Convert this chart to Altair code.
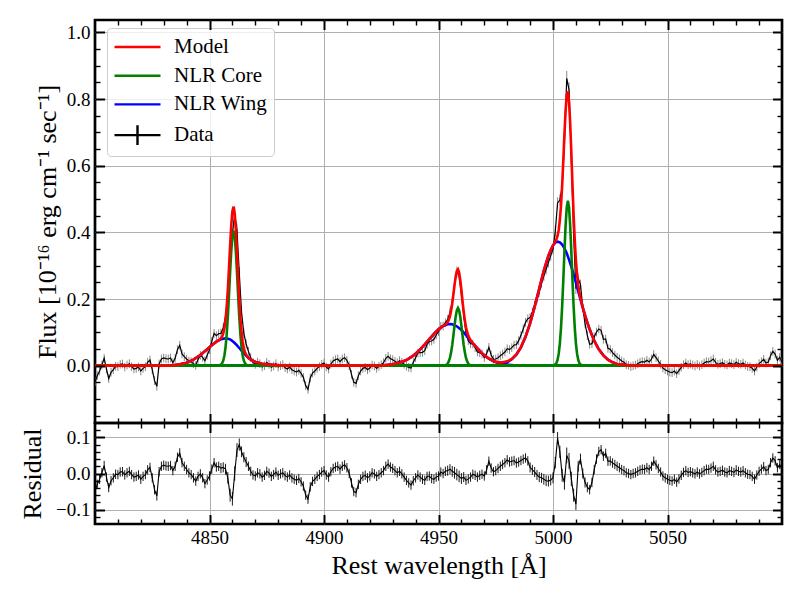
import altair as alt
import pandas as pd

FONT = "Liberation Serif"

# ---------------- spectrum (one sample per Angstrom, 4800..5100) ----------------
wavelength = list(range(4800, 5101))

flux = [
    -0.048, -0.030, -0.016, 0.002, 0.022, -0.010, -0.039, -0.020, -0.012, -0.002,
    -0.003, 0.004, 0.005, -0.004, 0.002, 0.006, -0.003, -0.010, -0.008, -0.004,
    -0.016, -0.008, -0.003, 0.010, 0.017, -0.012, -0.045, -0.062, 0.005, 0.020,
    0.023, 0.021, 0.020, 0.023, 0.009, 0.022, 0.048, 0.061, 0.035, 0.027,
    0.020, 0.014, 0.012, 0.006, 0.001, 0.019, 0.031, 0.025, 0.015, 0.031,
    0.048, 0.073, 0.097, 0.090, 0.096, 0.097, 0.113, 0.149, 0.215, 0.300,
    0.393, 0.457, 0.407, 0.279, 0.160, 0.097, 0.065, 0.043, 0.024, 0.010,
    0.004, 0.011, 0.006, -0.004, 0.000, 0.010, 0.004, -0.005, -0.001, 0.006,
    -0.004, 0.000, 0.003, -0.006, -0.010, -0.004, -0.012, -0.016, -0.019, -0.014,
    -0.023, -0.035, -0.060, -0.071, -0.037, -0.022, -0.016, -0.008, -0.003, 0.004,
    0.008, -0.004, -0.010, 0.005, 0.014, 0.018, 0.020, 0.012, 0.020, 0.024,
    0.016, 0.000, -0.026, -0.050, -0.053, -0.030, -0.016, -0.008, -0.005, -0.012,
    -0.007, 0.002, -0.001, -0.008, -0.002, 0.003, 0.009, 0.022, 0.028, 0.021,
    0.018, 0.013, 0.009, 0.015, 0.010, 0.004, -0.002, -0.005, -0.007, 0.010,
    0.024, 0.038, 0.039, 0.040, 0.045, 0.064, 0.073, 0.074, 0.079, 0.092,
    0.102, 0.118, 0.119, 0.129, 0.138, 0.160, 0.192, 0.244, 0.281, 0.271,
    0.213, 0.152, 0.096, 0.075, 0.066, 0.065, 0.054, 0.041, 0.039, 0.035,
    0.024, 0.036, 0.055, 0.032, 0.019, 0.020, 0.024, 0.030, 0.035, 0.041,
    0.051, 0.048, 0.054, 0.062, 0.063, 0.075, 0.091, 0.110, 0.130, 0.141,
    0.144, 0.161, 0.181, 0.200, 0.221, 0.246, 0.269, 0.289, 0.309, 0.330,
    0.349, 0.403, 0.488, 0.497, 0.536, 0.670, 0.862, 0.828, 0.625, 0.392,
    0.231, 0.262, 0.243, 0.174, 0.126, 0.091, 0.064, 0.066, 0.086, 0.101,
    0.110, 0.106, 0.079, 0.080, 0.052, 0.049, 0.039, 0.032, 0.025, 0.020,
    0.014, 0.010, 0.003, 0.001, -0.003, 0.000, 0.002, 0.006, 0.010, 0.012,
    0.011, 0.016, 0.011, 0.020, 0.034, 0.024, 0.014, 0.004, -0.007, -0.012,
    -0.016, -0.019, -0.021, -0.016, -0.024, -0.015, -0.005, 0.003, 0.008, 0.003,
    0.005, 0.002, -0.001, 0.004, -0.001, 0.003, 0.008, 0.012, 0.011, 0.015,
    0.020, 0.010, 0.004, 0.006, 0.009, 0.004, 0.002, 0.008, 0.006, 0.003,
    0.010, 0.006, 0.004, 0.008, 0.002, -0.002, -0.003, -0.008, -0.016, -0.004,
    0.006, 0.012, 0.019, 0.008, 0.011, 0.030, 0.043, 0.035, 0.016, 0.025,
    0.011,
]

residual = [
    -0.048, -0.030, -0.016, 0.002, 0.022, -0.010, -0.039, -0.020, -0.012, -0.002,
    -0.003, 0.004, 0.005, -0.004, 0.002, 0.006, -0.003, -0.010, -0.008, -0.004,
    -0.016, -0.008, -0.003, 0.010, 0.017, -0.012, -0.045, -0.062, 0.005, 0.020,
    0.023, 0.021, 0.020, 0.022, 0.008, 0.020, 0.045, 0.057, 0.030, 0.020,
    0.011, 0.002, -0.003, -0.012, -0.021, -0.008, -0.001, -0.012, -0.028, -0.018,
    -0.007, 0.012, 0.030, 0.018, 0.020, 0.015, 0.017, 0.012, -0.012, -0.060,
    -0.070, 0.000, 0.065, 0.080, 0.060, 0.045, 0.032, 0.020, 0.006, -0.004,
    -0.007, 0.002, -0.001, -0.010, -0.005, 0.006, 0.001, -0.008, -0.003, 0.004,
    -0.005, -0.001, 0.002, -0.006, -0.010, -0.004, -0.012, -0.016, -0.019, -0.014,
    -0.023, -0.035, -0.060, -0.071, -0.037, -0.022, -0.016, -0.008, -0.003, 0.004,
    0.008, -0.004, -0.010, 0.005, 0.014, 0.018, 0.020, 0.012, 0.020, 0.024,
    0.016, 0.000, -0.026, -0.050, -0.053, -0.030, -0.016, -0.008, -0.005, -0.012,
    -0.007, 0.002, -0.001, -0.008, -0.003, 0.002, 0.008, 0.020, 0.026, 0.018,
    0.014, 0.008, 0.002, 0.006, -0.001, -0.010, -0.019, -0.026, -0.032, -0.020,
    -0.012, -0.004, -0.010, -0.016, -0.019, -0.008, -0.007, -0.014, -0.016, -0.010,
    -0.007, 0.004, 0.000, 0.006, 0.008, 0.012, 0.006, 0.002, -0.003, -0.008,
    -0.014, -0.010, -0.019, -0.015, -0.010, -0.002, -0.005, -0.010, -0.005, -0.002,
    -0.007, 0.010, 0.034, 0.015, 0.005, 0.008, 0.014, 0.020, 0.025, 0.030,
    0.038, 0.032, 0.034, 0.036, 0.029, 0.032, 0.036, 0.040, 0.043, 0.035,
    0.017, 0.010, 0.004, -0.004, -0.010, -0.012, -0.016, -0.020, -0.021, -0.018,
    -0.012, 0.030, 0.098, 0.060, -0.005, -0.025, 0.050, 0.035, -0.015, -0.060,
    -0.085, 0.020, 0.040, 0.000, -0.025, -0.038, -0.045, -0.025, 0.011, 0.040,
    0.061, 0.066, 0.048, 0.056, 0.034, 0.035, 0.029, 0.025, 0.020, 0.016,
    0.011, 0.008, 0.002, 0.000, -0.003, 0.000, 0.002, 0.006, 0.010, 0.012,
    0.011, 0.016, 0.011, 0.020, 0.034, 0.024, 0.014, 0.004, -0.007, -0.012,
    -0.016, -0.019, -0.021, -0.016, -0.024, -0.015, -0.005, 0.003, 0.008, 0.003,
    0.005, 0.002, -0.001, 0.004, -0.001, 0.003, 0.008, 0.012, 0.011, 0.015,
    0.020, 0.010, 0.004, 0.006, 0.009, 0.004, 0.002, 0.008, 0.006, 0.003,
    0.010, 0.006, 0.004, 0.008, 0.002, -0.002, -0.003, -0.008, -0.016, -0.004,
    0.006, 0.012, 0.019, 0.008, 0.011, 0.030, 0.043, 0.035, 0.016, 0.025,
    0.011,
]

flux_err = [
    0.013, 0.013, 0.013, 0.013, 0.013, 0.013, 0.013, 0.013, 0.013, 0.013,
    0.013, 0.013, 0.013, 0.013, 0.013, 0.013, 0.013, 0.013, 0.013, 0.013,
    0.013, 0.013, 0.013, 0.013, 0.013, 0.013, 0.013, 0.013, 0.013, 0.013,
    0.013, 0.013, 0.013, 0.013, 0.013, 0.013, 0.013, 0.013, 0.013, 0.013,
    0.013, 0.013, 0.013, 0.013, 0.013, 0.013, 0.013, 0.013, 0.013, 0.013,
    0.013, 0.013, 0.013, 0.013, 0.013, 0.014, 0.014, 0.015, 0.016, 0.018,
    0.019, 0.020, 0.019, 0.017, 0.015, 0.014, 0.014, 0.013, 0.013, 0.013,
    0.013, 0.013, 0.013, 0.013, 0.013, 0.013, 0.013, 0.013, 0.013, 0.013,
    0.013, 0.013, 0.013, 0.013, 0.013, 0.013, 0.013, 0.013, 0.013, 0.013,
    0.013, 0.013, 0.013, 0.013, 0.013, 0.013, 0.013, 0.013, 0.013, 0.013,
    0.013, 0.013, 0.013, 0.013, 0.013, 0.013, 0.013, 0.013, 0.013, 0.013,
    0.013, 0.013, 0.013, 0.013, 0.013, 0.013, 0.013, 0.013, 0.013, 0.013,
    0.013, 0.013, 0.013, 0.013, 0.013, 0.013, 0.013, 0.013, 0.013, 0.013,
    0.013, 0.013, 0.013, 0.013, 0.013, 0.013, 0.013, 0.013, 0.013, 0.013,
    0.013, 0.013, 0.013, 0.013, 0.013, 0.013, 0.013, 0.013, 0.013, 0.013,
    0.013, 0.013, 0.013, 0.013, 0.014, 0.014, 0.015, 0.016, 0.016, 0.016,
    0.015, 0.014, 0.013, 0.013, 0.013, 0.013, 0.013, 0.013, 0.013, 0.013,
    0.013, 0.013, 0.013, 0.013, 0.013, 0.013, 0.013, 0.013, 0.013, 0.013,
    0.013, 0.013, 0.013, 0.013, 0.013, 0.013, 0.013, 0.013, 0.013, 0.013,
    0.014, 0.014, 0.014, 0.014, 0.014, 0.014, 0.015, 0.015, 0.015, 0.015,
    0.015, 0.016, 0.017, 0.017, 0.018, 0.020, 0.022, 0.022, 0.020, 0.018,
    0.016, 0.015, 0.015, 0.014, 0.014, 0.014, 0.013, 0.013, 0.013, 0.013,
    0.013, 0.013, 0.013, 0.013, 0.013, 0.013, 0.013, 0.013, 0.013, 0.013,
    0.013, 0.013, 0.013, 0.013, 0.013, 0.013, 0.013, 0.013, 0.013, 0.013,
    0.013, 0.013, 0.013, 0.013, 0.013, 0.013, 0.013, 0.013, 0.013, 0.013,
    0.013, 0.013, 0.013, 0.013, 0.013, 0.013, 0.013, 0.013, 0.013, 0.013,
    0.013, 0.013, 0.013, 0.013, 0.013, 0.013, 0.013, 0.013, 0.013, 0.013,
    0.013, 0.013, 0.013, 0.013, 0.013, 0.013, 0.013, 0.013, 0.013, 0.013,
    0.013, 0.013, 0.013, 0.013, 0.013, 0.013, 0.013, 0.013, 0.013, 0.013,
    0.013, 0.013, 0.013, 0.013, 0.013, 0.013, 0.013, 0.013, 0.013, 0.013,
    0.013,
]

# ---------------- total model ----------------
model_wl = [
    4800, 4830, 4834, 4837, 4840, 4843, 4846, 4849, 4851, 4853, 4854,
    4855, 4855.5, 4856, 4856.5, 4857, 4857.5, 4858, 4858.5, 4859, 4859.5, 4860, 4860.5,
    4861, 4861.5, 4862, 4862.5, 4863, 4863.5, 4864, 4864.5, 4865, 4865.5, 4866,
    4867, 4868, 4870, 4873, 4876, 4880, 4885,
    4922, 4926, 4930, 4933, 4936, 4939, 4942, 4944, 4946, 4948, 4950, 4951, 4952,
    4953, 4953.5, 4954, 4954.5, 4955, 4955.5, 4956, 4956.5, 4957, 4957.5, 4958, 4958.5,
    4959, 4959.5, 4960, 4960.5, 4961, 4961.5, 4962, 4962.5, 4963, 4963.5, 4964,
    4966, 4968, 4970, 4972, 4974, 4976, 4978, 4980, 4982, 4984, 4986, 4988, 4990,
    4992, 4994, 4996, 4998, 4999, 5000,
    5000.5, 5001, 5001.5, 5002, 5002.5, 5003, 5003.5, 5004, 5004.5, 5005, 5005.5, 5006,
    5006.5, 5007, 5007.5, 5008, 5008.5, 5009, 5009.5, 5010, 5010.5, 5011, 5011.5, 5012,
    5013, 5014, 5015, 5016, 5017, 5018, 5019, 5020, 5022, 5024, 5026, 5028, 5030, 5033, 5036, 5100,
]
model_flux = [
    0.000, 0.000, 0.001, 0.004, 0.009, 0.018, 0.032, 0.049, 0.061, 0.072, 0.076,
    0.082, 0.087, 0.096, 0.112, 0.137, 0.175, 0.227, 0.291, 0.360, 0.421, 0.463, 0.477,
    0.457, 0.409, 0.342, 0.268, 0.199, 0.142, 0.100, 0.071, 0.052, 0.040, 0.033,
    0.023, 0.018, 0.011, 0.006, 0.003, 0.001, 0.000,
    0.000, 0.001, 0.004, 0.009, 0.017, 0.030, 0.049, 0.064, 0.080, 0.095, 0.109, 0.114, 0.119,
    0.123, 0.126, 0.130, 0.138, 0.148, 0.165, 0.186, 0.213, 0.242, 0.267, 0.284, 0.289,
    0.279, 0.257, 0.227, 0.193, 0.162, 0.136, 0.115, 0.101, 0.090, 0.083, 0.076,
    0.059, 0.044, 0.031, 0.021, 0.014, 0.010, 0.010, 0.013, 0.020, 0.034, 0.055, 0.087, 0.127,
    0.177, 0.231, 0.285, 0.330, 0.348, 0.361,
    0.366, 0.373, 0.379, 0.390, 0.407, 0.437, 0.481, 0.541, 0.615, 0.695, 0.765, 0.812,
    0.823, 0.793, 0.728, 0.640, 0.543, 0.452, 0.376, 0.316, 0.273, 0.242, 0.220, 0.203,
    0.174, 0.151, 0.129, 0.109, 0.091, 0.075, 0.061, 0.049, 0.031, 0.018, 0.010, 0.005, 0.003, 0.001, 0.000, 0.000,
]

# ---------------- narrow-line-region cores ----------------
core_hb_wl = [4800, 4854, 4855, 4855.5, 4856, 4856.5, 4857, 4857.5, 4858, 4858.5, 4859, 4859.5,
              4860, 4860.5, 4861, 4861.5, 4862, 4862.5, 4863, 4863.5, 4864, 4864.5, 4865, 4865.5,
              4866, 4867, 5100]
core_hb = [0, 0, 0.003, 0.007, 0.015, 0.030, 0.055, 0.093, 0.146, 0.211, 0.281, 0.344,
           0.389, 0.405, 0.389, 0.344, 0.281, 0.211, 0.146, 0.093, 0.055, 0.030, 0.015, 0.007,
           0.003, 0, 0]
core_4959_wl = [4800, 4952, 4953, 4953.5, 4954, 4954.5, 4955, 4955.5, 4956, 4956.5, 4957, 4957.5,
                4958, 4958.5, 4959, 4959.5, 4960, 4960.5, 4961, 4961.5, 4962, 4962.5, 4963, 4963.5,
                4964, 4965, 5100]
core_4959 = [0, 0, 0.001, 0.003, 0.006, 0.013, 0.023, 0.040, 0.062, 0.090, 0.120, 0.147,
             0.166, 0.173, 0.166, 0.147, 0.120, 0.090, 0.062, 0.040, 0.023, 0.013, 0.006, 0.003,
             0.001, 0, 0]
core_5007_wl = [4800, 5000, 5001, 5001.5, 5002, 5002.5, 5003, 5003.5, 5004, 5004.5, 5005, 5005.5,
                5006, 5006.5, 5007, 5007.5, 5008, 5008.5, 5009, 5009.5, 5010, 5010.5, 5011, 5011.5,
                5012, 5013, 5100]
core_5007 = [0, 0, 0.004, 0.008, 0.018, 0.036, 0.067, 0.114, 0.178, 0.257, 0.343, 0.420,
             0.475, 0.495, 0.475, 0.420, 0.343, 0.257, 0.178, 0.114, 0.067, 0.036, 0.018, 0.008,
             0.004, 0, 0]

# ---------------- narrow-line-region wings ----------------
wing_hb_wl = [4800, 4826, 4830, 4834, 4837, 4840, 4843, 4846, 4849, 4851, 4853, 4855, 4856, 4857,
              4858, 4859, 4860, 4861, 4862, 4863, 4864, 4865, 4866, 4867, 4868, 4870, 4873, 4876,
              4880, 4885, 5100]
wing_hb = [0, 0, 0, 0.001, 0.004, 0.009, 0.018, 0.032, 0.049, 0.061, 0.072, 0.079, 0.081, 0.082,
           0.081, 0.079, 0.074, 0.068, 0.061, 0.053, 0.045, 0.037, 0.030, 0.023, 0.018, 0.011, 0.006, 0.003,
           0.001, 0, 0]
wing_4959_wl = [4800, 4922, 4926, 4930, 4933, 4936, 4939, 4942, 4944, 4946, 4948, 4950, 4952, 4954,
                4955, 4956, 4958, 4960, 4962, 4964, 4966, 4968, 4970, 4972, 4974, 4976, 4978, 4980,
                4983, 4986, 5100]
wing_4959 = [0, 0, 0.001, 0.004, 0.009, 0.017, 0.030, 0.049, 0.064, 0.080, 0.095, 0.109, 0.119, 0.124,
             0.125, 0.124, 0.118, 0.107, 0.092, 0.075, 0.059, 0.044, 0.031, 0.021, 0.013, 0.008, 0.005, 0.003,
             0.001, 0, 0]
wing_5007_wl = [4800, 4970, 4974, 4976, 4978, 4980, 4982, 4984, 4986, 4988, 4990, 4992, 4994, 4996,
                4998, 5000, 5001, 5002, 5003, 5004, 5005, 5006, 5007, 5008, 5009, 5010, 5011, 5012,
                5013, 5014, 5015, 5016, 5018, 5020, 5022, 5024, 5026, 5028, 5030, 5033, 5036, 5100]
wing_5007 = [0, 0, 0.001, 0.002, 0.005, 0.010, 0.019, 0.033, 0.055, 0.087, 0.127, 0.177, 0.231, 0.285,
             0.330, 0.361, 0.369, 0.372, 0.370, 0.363, 0.352, 0.337, 0.318, 0.297, 0.274, 0.249, 0.224, 0.199,
             0.174, 0.151, 0.129, 0.109, 0.075, 0.049, 0.031, 0.018, 0.010, 0.005, 0.003, 0.001, 0, 0]

# ---------------- tick positions ----------------
x_major = [4850, 4900, 4950, 5000, 5050]
x_minor = [4810, 4820, 4830, 4840, 4860, 4870, 4880, 4890, 4910, 4920, 4930, 4940,
           4960, 4970, 4980, 4990, 5010, 5020, 5030, 5040, 5060, 5070, 5080, 5090]
y_major_top = [0.0, 0.2, 0.4, 0.6, 0.8, 1.0]
y_minor_top = [-0.15, -0.1, -0.05, 0.05, 0.1, 0.15, 0.25, 0.3, 0.35, 0.45, 0.5, 0.55,
               0.65, 0.7, 0.75, 0.85, 0.9, 0.95]
y_major_res = [-0.1, 0.0, 0.1]
y_minor_res = [-0.12, -0.08, -0.06, -0.04, -0.02, 0.02, 0.04, 0.06, 0.08, 0.12]

series_names = ["Model", "NLR Core", "NLR Wing", "Data"]
series_colors = ["#ff0000", "#008000", "#0000ff", "#000000"]
LINE_PATH = "M-1,0H3"
DATA_PATH = "M-1,0H3M1,-0.85V0.85"
series_symbols = [LINE_PATH, LINE_PATH, LINE_PATH, DATA_PATH]

FLUX_TITLE = "Flux [10\u207b\u00b9\u2076 erg cm\u207b\u00b9 sec\u207b\u00b9]"
X_TITLE = "Rest wavelength [\u00c5]"
RES_TITLE = "Residual"

# ---------------- tables ----------------
spec_df = pd.DataFrame({"wl": wavelength, "flux": flux, "resid": residual, "err": flux_err})

model_df = pd.DataFrame({"wl": model_wl, "val": model_flux})

core_df = pd.concat([
    pd.DataFrame({"wl": core_hb_wl, "val": core_hb, "comp": "hb"}),
    pd.DataFrame({"wl": core_4959_wl, "val": core_4959, "comp": "o4959"}),
    pd.DataFrame({"wl": core_5007_wl, "val": core_5007, "comp": "o5007"}),
], ignore_index=True)

wing_df = pd.concat([
    pd.DataFrame({"wl": wing_hb_wl, "val": wing_hb, "comp": "hb"}),
    pd.DataFrame({"wl": wing_4959_wl, "val": wing_4959, "comp": "o4959"}),
    pd.DataFrame({"wl": wing_5007_wl, "val": wing_5007, "comp": "o5007"}),
], ignore_index=True)

# legend keys: placed outside the x domain (clipped), only the legend shows them
legend_df = pd.DataFrame({"series": series_names, "wl": [4700, 4700, 4700, 4700],
                          "val": [0, 0, 0, 0]})

# ---------------- scales ----------------
x_scale = alt.Scale(domain=[4800, 5100], nice=False, zero=False)
y_top_scale = alt.Scale(domain=[-0.172, 1.037], nice=False, zero=False)
y_res_scale = alt.Scale(domain=[-0.14, 0.14], nice=False, zero=False)
color_scale = alt.Scale(domain=series_names, range=series_colors)
shape_scale = alt.Scale(domain=series_names, range=series_symbols)

MAJ, MIN = 9.5, 5.0
MAJW, MINW = 2.0, 1.4


def tick_axis(orient, values, length, width):
    return alt.Axis(orient=orient, values=values, offset=-length, tickSize=length,
                    tickWidth=width, tickColor="black", ticks=True, labels=False,
                    domain=False, grid=False, title=None, zindex=2)


def grid_axis(orient, values, title=None, fmt=None, label_pad=5, title_pad=6):
    kw = dict(orient=orient, values=values, ticks=False, domain=False, grid=True,
              gridColor="#b0b0b0", gridWidth=1, zindex=0)
    if fmt is not None:
        kw.update(labels=True, format=fmt, labelFont=FONT, labelFontSize=19,
                  labelPadding=label_pad, labelColor="black", labelOverlap=False,
                  labelFlush=False)
    else:
        kw.update(labels=False)
    if title is not None:
        kw.update(title=title, titleFont=FONT, titleFontSize=26, titleFontWeight="normal",
                  titlePadding=title_pad, titleColor="black")
    else:
        kw.update(title=None)
    return alt.Axis(**kw)


legend = alt.Legend(
    title=None, orient="none", legendX=12, legendY=8, padding=6,
    symbolSize=529, symbolStrokeWidth=2.4, rowPadding=5.7, labelOffset=35,
    labelFont=FONT, labelFontSize=21, labelColor="black", symbolOpacity=1,
    fillColor="rgba(255,255,255,0.8)", strokeColor="#cccccc", cornerRadius=4,
)

# ---------------- top panel ----------------
err_top = alt.Chart(spec_df).transform_calculate(
    lo="datum.flux - datum.err", hi="datum.flux + datum.err"
).mark_rule(color="#8a8a8a", strokeWidth=1, clip=True).encode(
    x=alt.X("wl:Q", scale=x_scale, axis=grid_axis("bottom", x_major)),
    y=alt.Y("lo:Q", scale=y_top_scale,
            axis=grid_axis("left", y_major_top, title=FLUX_TITLE, fmt=".1f", title_pad=6)),
    y2="hi:Q",
)
data_top = alt.Chart(spec_df).mark_line(color="#000000", strokeWidth=1.2, clip=True).encode(
    x=alt.X("wl:Q", scale=x_scale, axis=tick_axis("bottom", x_major, MAJ, MAJW)),
    y=alt.Y("flux:Q", scale=y_top_scale, axis=tick_axis("left", y_major_top, MAJ, MAJW)),
)
wing_top = alt.Chart(wing_df).mark_line(color="#0000ff", strokeWidth=2.6, clip=True).encode(
    x=alt.X("wl:Q", scale=x_scale, axis=tick_axis("bottom", x_minor, MIN, MINW)),
    y=alt.Y("val:Q", scale=y_top_scale, axis=tick_axis("left", y_minor_top, MIN, MINW)),
    detail="comp:N",
)
core_top = alt.Chart(core_df).mark_line(color="#008000", strokeWidth=2.6, clip=True).encode(
    x=alt.X("wl:Q", scale=x_scale, axis=tick_axis("top", x_major, MAJ, MAJW)),
    y=alt.Y("val:Q", scale=y_top_scale, axis=tick_axis("right", y_major_top, MAJ, MAJW)),
    detail="comp:N",
)
model_top = alt.Chart(model_df).mark_line(color="#ff0000", strokeWidth=2.6, clip=True).encode(
    x=alt.X("wl:Q", scale=x_scale, axis=tick_axis("top", x_minor, MIN, MINW)),
    y=alt.Y("val:Q", scale=y_top_scale, axis=tick_axis("right", y_minor_top, MIN, MINW)),
)
legend_keys = alt.Chart(legend_df).mark_point(filled=False, opacity=1, strokeWidth=2.4,
                                              clip=True).encode(
    x=alt.X("wl:Q", scale=x_scale, axis=None),
    y=alt.Y("val:Q", scale=y_top_scale, axis=None),
    color=alt.Color("series:N", scale=color_scale, legend=legend),
    shape=alt.Shape("series:N", scale=shape_scale, legend=legend),
)
top = alt.layer(err_top, data_top, wing_top, core_top, model_top, legend_keys).resolve_axis(
    x="independent", y="independent"
).properties(width=687, height=403)

# ---------------- residual panel ----------------
err_bot = alt.Chart(spec_df).transform_calculate(
    lo="datum.resid - datum.err", hi="datum.resid + datum.err"
).mark_rule(color="black", strokeWidth=0.9, clip=True).encode(
    x=alt.X("wl:Q", scale=x_scale,
            axis=grid_axis("bottom", x_major, title=X_TITLE, fmt="d", label_pad=4, title_pad=5)),
    y=alt.Y("lo:Q", scale=y_res_scale,
            axis=grid_axis("left", y_major_res, title=RES_TITLE, fmt=".1f", title_pad=10)),
    y2="hi:Q",
)
res_line = alt.Chart(spec_df).mark_line(color="black", strokeWidth=1.1, clip=True).encode(
    x=alt.X("wl:Q", scale=x_scale, axis=tick_axis("bottom", x_major, MAJ, MAJW)),
    y=alt.Y("resid:Q", scale=y_res_scale, axis=tick_axis("left", y_major_res, MAJ, MAJW)),
)
res_t1 = alt.Chart(spec_df).mark_point(opacity=0).encode(
    x=alt.X("wl:Q", scale=x_scale, axis=tick_axis("bottom", x_minor, MIN, MINW)),
    y=alt.Y("resid:Q", scale=y_res_scale, axis=tick_axis("left", y_minor_res, MIN, MINW)),
)
res_t2 = alt.Chart(spec_df).mark_point(opacity=0).encode(
    x=alt.X("wl:Q", scale=x_scale, axis=tick_axis("top", x_major, MAJ, MAJW)),
    y=alt.Y("resid:Q", scale=y_res_scale, axis=tick_axis("right", y_major_res, MAJ, MAJW)),
)
res_t3 = alt.Chart(spec_df).mark_point(opacity=0).encode(
    x=alt.X("wl:Q", scale=x_scale, axis=tick_axis("top", x_minor, MIN, MINW)),
    y=alt.Y("resid:Q", scale=y_res_scale, axis=tick_axis("right", y_minor_res, MIN, MINW)),
)
bottom = alt.layer(err_bot, res_line, res_t1, res_t2, res_t3).resolve_axis(
    x="independent", y="independent"
).properties(width=687, height=101)

chart = alt.vconcat(top, bottom, spacing=0, bounds="flush").resolve_scale(
    color="independent", shape="independent"
).resolve_legend(
    color="independent", shape="independent"
).properties(
    padding={"left": 10, "top": 9, "right": 5, "bottom": 5}
).configure(
    font=FONT
).configure_view(
    stroke="black", strokeWidth=2.7
).configure_axis(
    labelFont=FONT, titleFont=FONT, labelColor="black", titleColor="black",
    titleFontWeight="normal"
)

chart.save("out.html", embed_options={"renderer": "svg", "actions": False})
